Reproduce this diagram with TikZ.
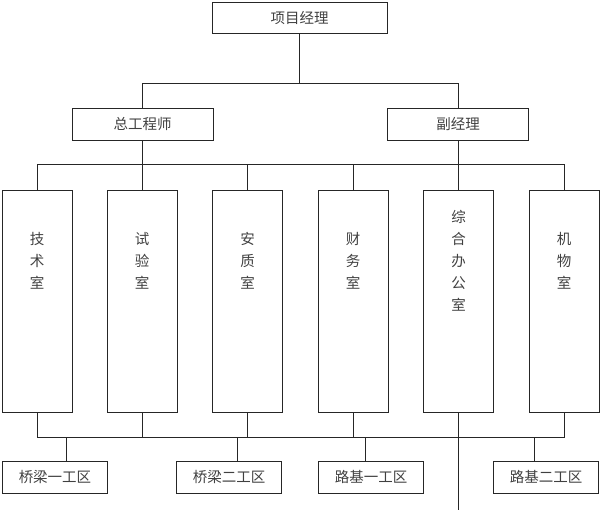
\documentclass[tikz,border=0pt]{standalone}
\usepackage{fontspec}
\setmainfont{Noto Sans CJK SC}
\usetikzlibrary{positioning}
\tikzset{
  box/.style={draw=black!85,line width=0.9pt,inner sep=0pt,text=black!75,font=\fontsize{14.5}{14.5}\selectfont},
  headbox/.style={box,minimum width=175pt,minimum height=31pt},
  midbox/.style={box,minimum width=141pt,minimum height=32pt},
  tallbox/.style={box,minimum width=70pt,minimum height=222pt,anchor=north},
  areabox/.style={box,minimum width=105pt,minimum height=32pt},
  vtext/.style={align=center,text=black!75,font=\fontsize{14.5}{22}\selectfont},
  link/.style={draw=black!85,line width=0.9pt}
}
\begin{document}
\begin{tikzpicture}[x=1pt,y=-1pt]
\useasboundingbox (0,0) rectangle (600,512);
% top levels
\node[headbox] (pm) at (299.5,17.5) {项目经理};
\node[midbox] (ce) at (142.5,124) {总工程师};
\node[midbox] (dm) at (458,124) {副经理};
% offices
\node[tallbox,label={[vtext,yshift=41pt]center:技\\术\\室}] (t1) at (37,190) {};
\node[tallbox,label={[vtext,yshift=41pt]center:试\\验\\室}] (t2) at (142,190) {};
\node[tallbox,label={[vtext,yshift=41pt]center:安\\质\\室}] (t3) at (247.5,190) {};
\node[tallbox,label={[vtext,yshift=41pt]center:财\\务\\室}] (t4) at (353,190) {};
\node[tallbox,label={[vtext,yshift=41pt]center:综\\合\\办\\公\\室}] (t5) at (458.5,190) {};
\node[tallbox,label={[vtext,yshift=41pt]center:机\\物\\室}] (t6) at (564,190) {};
% work areas
\node[areabox] (w1) at (55,477) {桥梁一工区};
\node[areabox] (w2) at (229,477) {桥梁二工区};
\node[areabox] (w3) at (371,477) {路基一工区};
\node[areabox] (w4) at (546,477) {路基二工区};
% buses
\coordinate (bus1) at (0,83);
\coordinate (bus2) at (0,164);
\coordinate (bus3) at (0,437);
\coordinate (tail) at (458.5,510);
\draw[link] (pm.south) -- (pm.south |- bus1);
\draw[link] (ce.north) |- (dm.north |- bus1) -- (dm.north);
\draw[link] (ce.south) -- (ce.south |- bus2);
\draw[link] (dm.south) -- (dm.south |- bus2);
\draw[link] (t1.north) |- (t6.north |- bus2) -- (t6.north);
\foreach \i in {2,...,5}
  \draw[link] (t\i.north) -- (t\i.north |- bus2);
\draw[link] (t1.south) |- (t6.south |- bus3) -- (t6.south);
\foreach \i in {2,3,4}
  \draw[link] (t\i.south) -- (t\i.south |- bus3);
\draw[link] (t5.south) -- (tail);
\foreach \w/\s in {w1/11,w2/8,w3/-6,w4/-12}
  \draw[link] ([xshift=\s pt]\w.north) -- ([xshift=\s pt]\w.north |- bus3);
\end{tikzpicture}
\end{document}
